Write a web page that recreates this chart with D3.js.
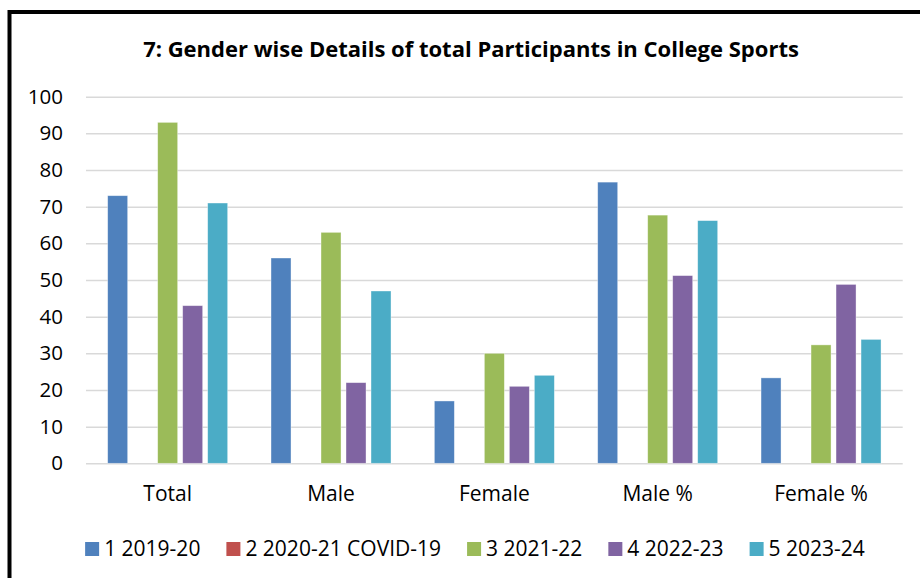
<!DOCTYPE html>
<html>
<head>
<meta charset="utf-8">
<script src="https://cdn.jsdelivr.net/npm/d3@7"></script>
<style>
  body { margin: 0; background: #fff; }
  svg { display: block; font-family: 'Open Sans', 'Noto Sans', sans-serif; }
</style>
</head>
<body>
<div id="chart"></div>
<script>
const width = 920;
const height = 578;

// Chart data
const categories = ['Total', 'Male', 'Female', 'Male %', 'Female %'];
const seriesNames = ['1 2019-20', '2 2020-21 COVID-19', '3 2021-22', '4 2022-23', '5 2023-24'];
const s2019 = [73, 56, 17, 76.7, 23.3];
const s2020 = [0, 0, 0, 0, 0];
const s2021 = [93, 63, 30, 67.7, 32.3];
const s2022 = [43, 22, 21, 51.2, 48.8];
const s2023 = [71, 47, 24, 66.2, 33.8];
const yTicks = [0, 10, 20, 30, 40, 50, 60, 70, 80, 90, 100];
const colors = ['#4F81BD', '#C0504D', '#9BBB59', '#8064A2', '#4BACC6'];
const title = '7: Gender wise Details of total Participants in College Sports';

const seriesValues = [s2019, s2020, s2021, s2022, s2023];

const svg = d3.select('#chart')
  .append('svg')
  .attr('width', width)
  .attr('height', height);

// Outer frame (runs off the right and bottom edge)
svg.append('rect')
  .attr('x', 9.5)
  .attr('y', 12)
  .attr('width', 1000)
  .attr('height', 1000)
  .attr('fill', '#fff')
  .attr('stroke', '#000')
  .attr('stroke-width', 4);

// Title
svg.append('text')
  .attr('x', 471)
  .attr('y', 57)
  .attr('text-anchor', 'middle')
  .attr('font-weight', 'bold')
  .attr('font-size', 22)
  .attr('fill', '#000')
  .text(title);

// Scales
const plotLeft = 86, plotRight = 902.7, plotTop = 96.7, plotBottom = 463.3;
const x = d3.scaleBand()
  .domain(categories)
  .range([plotLeft, plotRight]);
const bw = x.bandwidth();
const xInner = d3.scaleBand()
  .domain(seriesNames)
  .range([bw / 2 - 62.5, bw / 2 + 62.5])
  .paddingInner(0.2)
  .paddingOuter(0.1);
const y = d3.scaleLinear()
  .domain([0, 100])
  .range([plotBottom, plotTop]);

// Gridlines + y labels
const yAxis = d3.axisLeft(y)
  .tickValues(yTicks)
  .tickSize(0)
  .tickPadding(23);
const gy = svg.append('g')
  .attr('transform', `translate(${plotLeft},0)`)
  .call(yAxis);
gy.select('.domain').remove();
gy.selectAll('.tick text')
  .attr('font-family', "'Open Sans', 'Noto Sans', sans-serif")
  .attr('font-size', 20.5)
  .attr('fill', '#000');
gy.selectAll('.tick')
  .append('line')
  .attr('x1', 0)
  .attr('x2', plotRight - plotLeft)
  .attr('stroke', '#d9d9d9')
  .attr('stroke-width', 1.5);

// Bars
const groups = svg.selectAll('g.cat')
  .data(categories)
  .enter()
  .append('g')
  .attr('class', 'cat')
  .attr('transform', d => `translate(${x(d)},0)`);

groups.selectAll('rect')
  .data((c, ci) => seriesNames.map((s, si) => ({ s, si, v: seriesValues[si][ci] })))
  .enter()
  .filter(d => d.v > 0)
  .append('rect')
  .attr('x', d => xInner(d.s))
  .attr('y', d => y(d.v))
  .attr('width', xInner.bandwidth())
  .attr('height', d => y(0) - y(d.v))
  .attr('fill', d => colors[d.si])
  .attr('stroke', '#fff')
  .attr('stroke-opacity', 0.5)
  .attr('stroke-width', 0.75);

// X labels
const xAxis = d3.axisBottom(x).tickSize(0).tickPadding(23);
const gx = svg.append('g')
  .attr('transform', `translate(0,${plotBottom})`)
  .call(xAxis);
gx.select('.domain').remove();
gx.selectAll('.tick text')
  .attr('font-family', "'Open Sans', 'Noto Sans', sans-serif")
  .attr('font-size', 21)
  .attr('fill', '#000');

// Legend
const legend = svg.append('g');
let lx = 0;
seriesNames.forEach((name, i) => {
  const item = legend.append('g').attr('transform', `translate(${lx},0)`);
  item.append('rect')
    .attr('x', 0)
    .attr('y', -7)
    .attr('width', 14)
    .attr('height', 14)
    .attr('fill', colors[i]);
  const t = item.append('text')
    .attr('x', 19)
    .attr('y', 0)
    .attr('dy', '0.35em')
    .attr('font-size', 21)
    .attr('fill', '#000')
    .text(name);
  lx += 19 + t.node().getComputedTextLength() + 26;
});
lx -= 26;
legend.attr('transform', `translate(${475 - lx / 2},549)`);
</script>
</body>
</html>
